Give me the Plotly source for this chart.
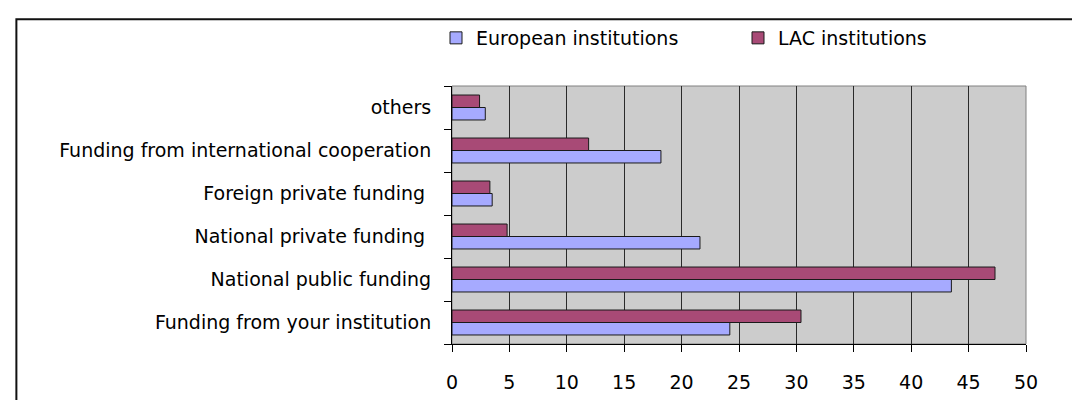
import plotly.graph_objects as go

categories = [
    "Funding from your institution",
    "National public funding",
    "National private funding\u00a0",
    "Foreign private funding\u00a0",
    "Funding from international cooperation",
    "others",
]
european = [24.2, 43.5, 21.6, 3.5, 18.2, 2.9]
lac = [30.4, 47.3, 4.8, 3.3, 11.9, 2.4]
x_ticks = [0, 5, 10, 15, 20, 25, 30, 35, 40, 45, 50]

FONT = "DejaVu Sans, Arial, sans-serif"

fig = go.Figure()
fig.add_trace(go.Bar(
    y=categories, x=european, orientation="h", name="European institutions",
    marker=dict(color="#A6AAFF", line=dict(color="#1a1a1a", width=1)),
))
fig.add_trace(go.Bar(
    y=categories, x=lac, orientation="h", name="LAC institutions",
    marker=dict(color="#A84A76", line=dict(color="#1a1a1a", width=1)),
))

L, R, T, B = 444, 61.5, 77, 64
pw = 1080 - L - R
ph = 400 - T - B

fig.update_layout(
    width=1080, height=400,
    margin=dict(l=L, r=R, t=T, b=B, pad=0),
    paper_bgcolor="white",
    plot_bgcolor="#CCCCCC",
    barmode="group",
    bargap=0.42,
    bargroupgap=0,
    font=dict(family=FONT, size=19, color="black"),
    showlegend=True,
    legend=dict(
        orientation="h",
        x=(428 - L) / pw, xanchor="left",
        y=(ph + T - 30) / ph, yanchor="middle",
        entrywidth=257, entrywidthmode="pixels",
        itemwidth=30,
        bgcolor="rgba(0,0,0,0)",
        font=dict(family=FONT, size=19, color="black"),
    ),
    xaxis=dict(
        range=[0, 50],
        tickvals=x_ticks,
        showgrid=True, gridcolor="#2a2a2a", gridwidth=1,
        zeroline=False,
        showline=True, linecolor="black", linewidth=1,
        ticks="outside", ticklen=7, tickcolor="black",
        ticklabelstandoff=14,
        mirror=False,
    ),
    yaxis=dict(
        showgrid=False, zeroline=False,
        showline=True, linecolor="black", linewidth=1,
        ticks="outside", ticklen=7, tickcolor="black",
        tickson="boundaries",
        ticklabelstandoff=16,
    ),
    shapes=[
        dict(type="rect", xref="paper", yref="paper",
             x0=0, x1=1, y0=0, y1=1,
             line=dict(color="#808080", width=1), layer="below"),
        dict(type="rect", xref="paper", yref="paper",
             x0=(8 - L) / pw, x1=1.3,
             y0=-0.5, y1=(ph + T - 10) / ph,
             line=dict(color="#111111", width=2)),
    ],
)

fig.write_html("out.html")
